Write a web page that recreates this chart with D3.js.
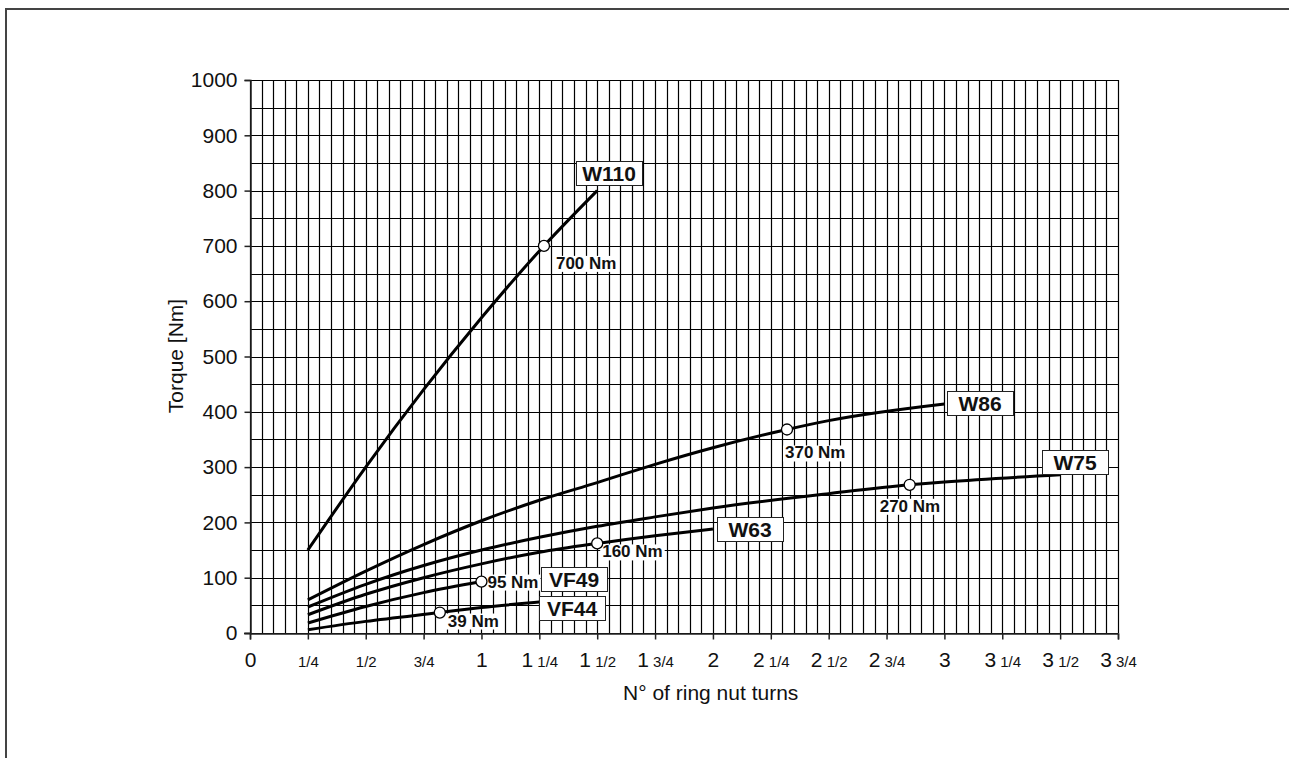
<!DOCTYPE html>
<html>
<head>
<meta charset="utf-8">
<script src="https://cdn.jsdelivr.net/npm/d3@7"></script>
<style>
  body { margin: 0; background: #fff; }
  text { font-family: "Liberation Sans", Arial, sans-serif; }
</style>
</head>
<body>
<script>
var width = 1289, height = 758;

// data (turns, Nm)
var xTicks = [0, 0.25, 0.5, 0.75, 1, 1.25, 1.5, 1.75, 2, 2.25, 2.5, 2.75, 3, 3.25, 3.5, 3.75];
var xTickLabels = ["0", "1/4", "1/2", "3/4", "1", "1 1/4", "1 1/2", "1 3/4", "2", "2 1/4", "2 1/2", "2 3/4", "3", "3 1/4", "3 1/2", "3 3/4"];
var yTicks = [0, 100, 200, 300, 400, 500, 600, 700, 800, 900, 1000];

var seriesNames = ["W110", "W86", "W75", "W63", "VF49", "VF44"];
var w110 = [[0.25, 150], [0.5, 300], [0.75, 440], [1.0, 570], [1.27, 700], [1.5, 800]];
var w86 = [[0.25, 60], [0.5, 112], [0.75, 160], [1.0, 203], [1.25, 240], [1.5, 272], [1.75, 305], [2.0, 335], [2.32, 368], [2.5, 384], [3.0, 414]];
var w75 = [[0.25, 47], [0.5, 88], [0.75, 122], [1.0, 150], [1.25, 173], [1.5, 193], [1.75, 210], [2.0, 226], [2.5, 252], [2.85, 268], [3.0, 273], [3.5, 286]];
var w63 = [[0.25, 33], [0.5, 70], [0.75, 100], [1.0, 125], [1.25, 146], [1.5, 162], [1.75, 176], [2.0, 188]];
var vf49 = [[0.25, 18], [0.5, 48], [0.75, 73], [1.0, 93]];
var vf44 = [[0.25, 6], [0.5, 21], [0.82, 37], [1.0, 46], [1.27, 57]];
var seriesValues = [w110, w86, w75, w63, vf49, vf44];

// rated torque points
var markX = [1.27, 2.32, 2.85, 1.5, 1.0, 0.82];
var markY = [700, 368, 268, 162, 93, 37];
var markLabels = ["700 Nm", "370 Nm", "270 Nm", "160 Nm", "95 Nm", "39 Nm"];

// label placement (pixels, relative to curve end / marker)
var nameOffset = [[-21, -30], [3, -13], [-18, -25], [4, -12], [60, -15], [-5, -5]];
var markOffset = [[12, 23], [-2, 29], [-30, 27], [5, 14], [6, 6], [8, 14]];

var margin = {left: 250, top: 80, right: 1289 - 1118, bottom: 758 - 633};

var svg = d3.select("body").append("svg")
  .attr("width", width)
  .attr("height", height);

// outer frame (top and left only)
svg.append("path")
  .attr("d", "M6," + height + "V9H" + width)
  .attr("fill", "none")
  .attr("stroke", "#444")
  .attr("stroke-width", 2);

var x = d3.scaleLinear().domain([0, 3.75]).range([margin.left, 1118]);
var y = d3.scaleLinear().domain([0, 1000]).range([633, margin.top]);

// grid
var g = svg.append("g");
g.selectAll(".vgrid")
  .data(d3.range(0, 76).map(function(i) { return i * 0.05; }))
  .enter().append("line")
  .attr("x1", function(d) { return Math.round(x(d)) + 0.5; })
  .attr("x2", function(d) { return Math.round(x(d)) + 0.5; })
  .attr("y1", y(1000))
  .attr("y2", y(0))
  .attr("stroke", "#000")
  .attr("stroke-width", 1.2);

g.selectAll(".hgrid")
  .data(d3.range(0, 21).map(function(i) { return i * 50; }))
  .enter().append("line")
  .attr("x1", x(0))
  .attr("x2", x(3.75))
  .attr("y1", function(d) { return Math.round(y(d)) + 0.5; })
  .attr("y2", function(d) { return Math.round(y(d)) + 0.5; })
  .attr("stroke", "#000")
  .attr("stroke-width", 1.2);

// axes
var yAxis = svg.append("g")
  .attr("transform", "translate(" + (x(0) + 0.5) + ",0)")
  .call(d3.axisLeft(y).tickValues(yTicks).tickSize(6).tickPadding(7).tickFormat(d3.format("d")));
yAxis.select(".domain").attr("stroke", "#222").attr("stroke-width", 1.5);
yAxis.selectAll(".tick line").attr("stroke", "#222").attr("stroke-width", 1.5);
yAxis.selectAll(".tick text").attr("font-size", 21).attr("fill", "#111")
  .style("font-family", "'Liberation Sans', Arial, sans-serif");

var xAxis = svg.append("g")
  .attr("transform", "translate(0," + (y(0) + 0.5) + ")")
  .call(d3.axisBottom(x).tickValues(xTicks).tickSize(6).tickFormat(""));
xAxis.select(".domain").attr("stroke", "#222").attr("stroke-width", 1.5);
xAxis.selectAll(".tick line").attr("stroke", "#222").attr("stroke-width", 1.5);
// extend baseline a little to the left like the original
xAxis.append("line").attr("x1", x(0) - 6).attr("x2", x(0)).attr("stroke", "#222").attr("stroke-width", 1.5);

xAxis.selectAll(".tick").each(function(d, i) {
  var parts = xTickLabels[i].split(" ");
  var t = d3.select(this).append("text")
    .attr("y", 33)
    .attr("text-anchor", "middle")
    .attr("fill", "#111")
    .style("font-family", "'Liberation Sans', Arial, sans-serif");
  if (parts[0].indexOf("/") >= 0) {
    t.append("tspan").attr("font-size", 15).text(parts[0]);
  } else {
    t.append("tspan").attr("font-size", 21).text(parts[0]);
    if (parts[1]) t.append("tspan").attr("font-size", 15).text("\u00a0" + parts[1]);
  }
});

// axis titles
svg.append("text")
  .attr("x", 623)
  .attr("y", 700)
  .attr("font-size", 21)
  .attr("fill", "#111")
  .text("N\u00b0 of ring nut turns");

svg.append("text")
  .attr("transform", "translate(183,356)rotate(-90)")
  .attr("text-anchor", "middle")
  .attr("font-size", 21)
  .attr("fill", "#111")
  .text("Torque [Nm]");

// curves
var line = d3.line()
  .x(function(d) { return x(d[0]); })
  .y(function(d) { return y(d[1]); })
  .curve(d3.curveMonotoneX);

svg.selectAll(".curve")
  .data(seriesValues)
  .enter().append("path")
  .attr("d", line)
  .attr("fill", "none")
  .attr("stroke", "#000")
  .attr("stroke-width", 3);

// markers and value labels
seriesNames.forEach(function(name, i) {
  var mx = x(markX[i]), my = y(markY[i]);
  var lt = svg.append("g");
  var txt = lt.append("text")
    .attr("x", mx + markOffset[i][0])
    .attr("y", my + markOffset[i][1])
    .attr("font-size", 17)
    .attr("font-weight", "bold")
    .attr("fill", "#111")
    .text(markLabels[i]);
  var bb = txt.node().getBBox();
  lt.insert("rect", "text")
    .attr("x", bb.x - 2).attr("y", bb.y + 2)
    .attr("width", bb.width + 4).attr("height", bb.height - 3)
    .attr("fill", "#fff");

  svg.append("circle")
    .attr("cx", mx).attr("cy", my).attr("r", 5.5)
    .attr("fill", "#fff").attr("stroke", "#000").attr("stroke-width", 1.3);
});

// series name boxes
seriesNames.forEach(function(name, i) {
  var pts = seriesValues[i];
  var end = pts[pts.length - 1];
  var ex = Math.round(x(end[0]) + nameOffset[i][0]), ey = Math.round(y(end[1]) + nameOffset[i][1]);
  var lg = svg.append("g");
  var txt = lg.append("text")
    .attr("y", ey + 20)
    .attr("text-anchor", "middle")
    .attr("font-size", 21)
    .attr("font-weight", "bold")
    .attr("fill", "#111")
    .text(name);
  var tw = txt.node().getComputedTextLength();
  var bw = Math.round(Math.max(tw + 10, 66));
  txt.attr("x", ex + bw / 2);
  lg.insert("rect", "text")
    .attr("x", ex + 0.5).attr("y", ey + 0.5)
    .attr("width", bw).attr("height", 24)
    .attr("fill", "#fff").attr("stroke", "#222").attr("stroke-width", 1);
});
</script>
</body>
</html>
